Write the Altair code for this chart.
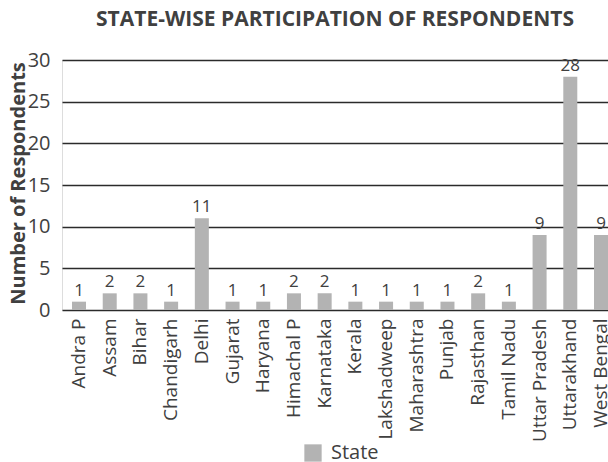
import altair as alt
import pandas as pd

# Respondents per state
states = ["Andra P", "Assam", "Bihar", "Chandigarh", "Delhi", "Gujarat", "Haryana",
          "Himachal P", "Karnataka", "Kerala", "Lakshadweep", "Maharashtra", "Punjab",
          "Rajasthan", "Tamil Nadu", "Uttar Pradesh", "Uttarakhand", "West Bengal"]
counts = [1, 2, 2, 1, 11, 1, 1, 2, 2, 1, 1, 1, 1, 2, 1, 9, 28, 9]
y_ticks = [0, 5, 10, 15, 20, 25, 30]

df = pd.DataFrame({
    "state": states,
    "count": counts,
    "series": ["State"] * len(states),
})

FONT = "Open Sans"
TEXT = "#404040"
BAR = "#b3b3b3"

x_enc = alt.X(
    "state:N",
    sort=states,
    scale=alt.Scale(paddingInner=0.544, paddingOuter=0.163, align=1),
    axis=alt.Axis(
        title=None,
        labelAngle=-90,
        labelFont=FONT,
        labelFontSize=19,
        labelColor=TEXT,
        labelPadding=8,
        labelOverlap=False,
        ticks=False,
        tickSize=0,
        domain=False,
        grid=False,
    ),
)

y_enc = alt.Y(
    "count:Q",
    scale=alt.Scale(domain=[0, 30], nice=False),
    axis=alt.Axis(
        title="Number of Respondents",
        titleFont=FONT,
        titleFontSize=20,
        titleFontWeight="bold",
        titleColor=TEXT,
        titleAngle=-90,
        titleX=-44,
        titleY=123,
        titleAlign="center",
        titleBaseline="middle",
        values=y_ticks,
        labelFont=FONT,
        labelFontSize=20,
        labelColor=TEXT,
        labelPadding=12,
        ticks=False,
        tickSize=0,
        domain=False,
        grid=True,
        gridColor="#2b2b2b",
        gridWidth=1.6,
        gridOpacity=1,
    ),
)

bars = alt.Chart(df).mark_bar().encode(
    x=x_enc,
    y=y_enc,
    color=alt.Color(
        "series:N",
        scale=alt.Scale(range=[BAR]),
        legend=alt.Legend(
            title=None,
            orient="none",
            legendX=241,
            legendY=383,
            symbolType="square",
            symbolSize=300,
            symbolStrokeWidth=0,
            labelFont=FONT,
            labelFontSize=20,
            labelColor=TEXT,
            labelOffset=8,
        ),
    ),
)

labels = alt.Chart(df).mark_text(
    baseline="bottom", dy=-2, font=FONT, fontSize=17, color=TEXT
).encode(
    x=alt.X("state:N", sort=states),
    y=alt.Y("count:Q"),
    text=alt.Text("count:Q"),
)

chart = (
    alt.layer(bars, labels)
    .properties(
        width=546,
        height=250,
        title=alt.TitleParams(
            "STATE-WISE PARTICIPATION OF RESPONDENTS",
            font=FONT,
            fontSize=21,
            fontWeight="bold",
            color=TEXT,
            anchor="middle",
            offset=20,
        ),
        autosize=alt.AutoSizeParams(type="none"),
        padding={"left": 62, "top": 60, "right": 0, "bottom": 152},
    )
    .configure_view(stroke=None)
    .configure(background="white")
)

chart.save("out.html", embed_options={"renderer": "svg", "actions": False})
